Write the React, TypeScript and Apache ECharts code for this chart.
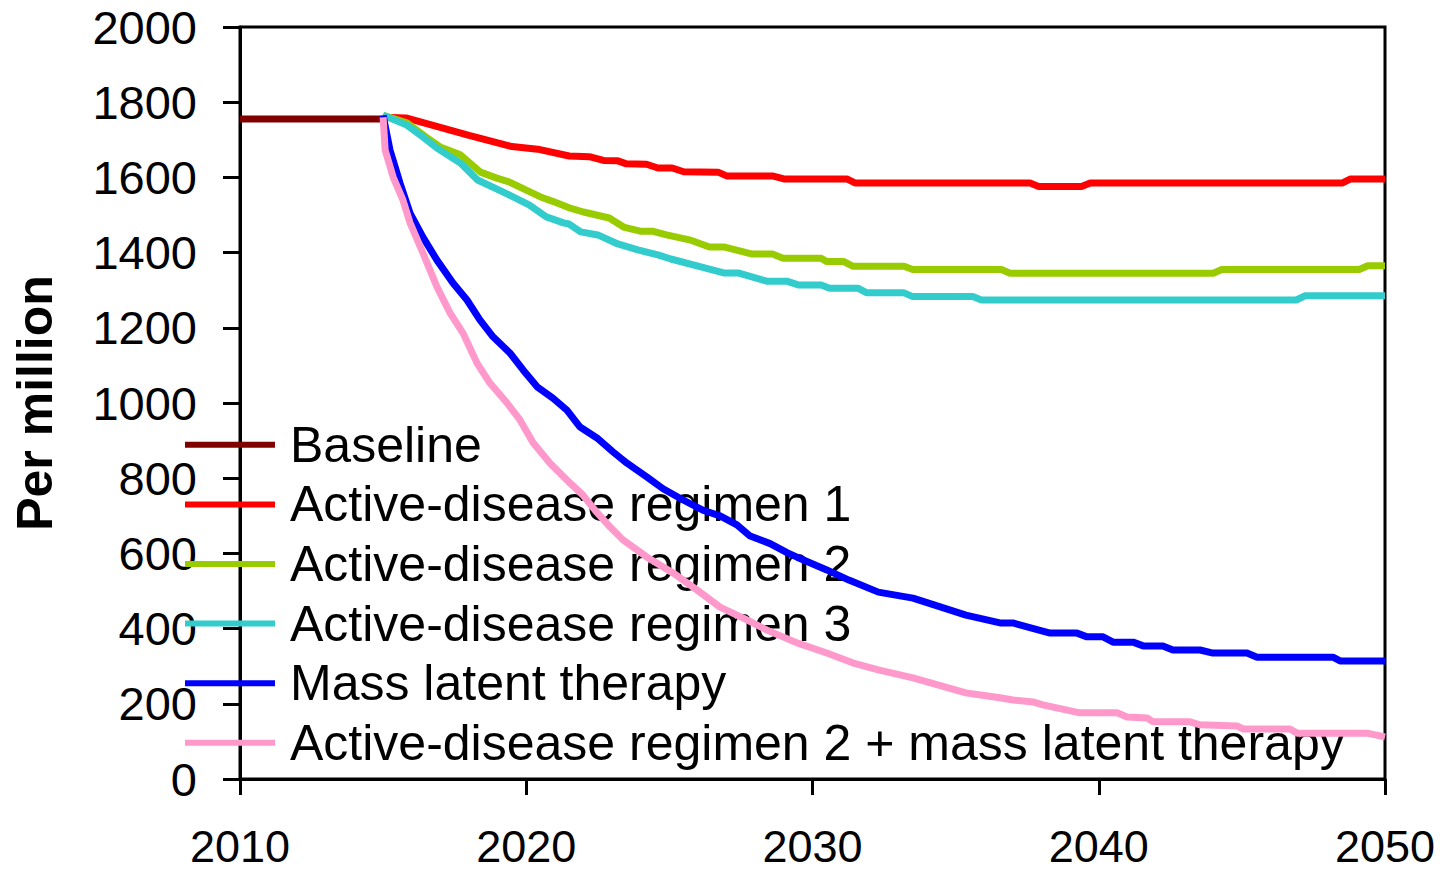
import React, { useEffect, useRef } from "react";
import * as echarts from "echarts";

const seriesNames = [
  "Baseline",
  "Active-disease regimen 1",
  "Active-disease regimen 2",
  "Active-disease regimen 3",
  "Mass latent therapy",
  "Active-disease regimen 2 + mass latent therapy",
];

const colors = ["#800000", "#FF0000", "#99CC00", "#33CCCC", "#0000FF", "#FF99CC"];

const baseline: number[][] = [
  [2010, 1755],
  [2015, 1755],
];

const regimen1: number[][] = [
  [2015, 1760], [2015.8, 1758], [2016.9, 1735], [2018, 1712], [2019.5, 1682],
  [2020.4, 1675], [2021.5, 1657], [2022.2, 1655], [2022.7, 1645], [2023.2, 1644],
  [2023.5, 1636], [2024.2, 1635], [2024.6, 1625], [2025.1, 1625], [2025.5, 1615],
  [2026.7, 1614], [2027, 1604], [2028.6, 1604], [2029, 1596], [2031.2, 1596],
  [2031.5, 1585], [2037.6, 1585], [2037.9, 1576], [2039.4, 1576], [2039.7, 1585],
  [2048.5, 1585], [2048.8, 1596], [2050, 1596],
];

const regimen2: number[][] = [
  [2015, 1765], [2015.83, 1745], [2016.5, 1707], [2016.99, 1681], [2017.7, 1660],
  [2018.4, 1614], [2018.97, 1598], [2019.4, 1588], [2020.0, 1566], [2020.5, 1548],
  [2020.9, 1537], [2021.5, 1519], [2022.0, 1508], [2022.9, 1492], [2023.4, 1468],
  [2023.98, 1457], [2024.4, 1457], [2024.9, 1447], [2025.7, 1434], [2026.4, 1415],
  [2026.9, 1415], [2027.9, 1396], [2028.6, 1396], [2028.97, 1385], [2030.3, 1385],
  [2030.5, 1376], [2031.1, 1376], [2031.4, 1364], [2033.2, 1364], [2033.5, 1355],
  [2036.6, 1355], [2036.9, 1345], [2044.0, 1345], [2044.3, 1355], [2049.1, 1355],
  [2049.4, 1365], [2050, 1365],
];

const regimen3: number[][] = [
  [2015, 1765], [2015.83, 1739], [2016.4, 1707], [2016.88, 1678], [2017.7, 1638],
  [2018.3, 1593], [2019.2, 1561], [2020.1, 1527], [2020.7, 1495], [2021.3, 1479],
  [2021.5, 1476], [2021.9, 1455], [2022.5, 1447], [2023.2, 1423], [2023.9, 1407],
  [2024.6, 1394], [2025.05, 1383], [2026.1, 1362], [2026.9, 1346], [2027.4, 1346],
  [2028.4, 1324], [2029.1, 1324], [2029.5, 1314], [2030.3, 1314], [2030.6, 1305],
  [2031.6, 1305], [2031.9, 1293], [2033.2, 1293], [2033.5, 1283], [2035.6, 1283],
  [2035.9, 1274], [2046.9, 1274], [2047.2, 1285], [2050, 1285],
];

const massLatent: number[][] = [
  [2015, 1765], [2015.24, 1673], [2015.59, 1585], [2015.94, 1505], [2016.39, 1441],
  [2016.88, 1380], [2017.44, 1319], [2017.93, 1274], [2018.38, 1221], [2018.84, 1176],
  [2019.43, 1133], [2019.89, 1088], [2020.38, 1043], [2020.93, 1013], [2021.42, 981],
  [2021.88, 936], [2022.47, 907], [2023.03, 870], [2023.52, 840], [2024.22, 803],
  [2024.78, 772], [2025.48, 742], [2026.2, 714], [2026.77, 700], [2027.36, 676],
  [2027.8, 647], [2028.52, 626], [2029.11, 602], [2029.46, 590], [2030.5, 556],
  [2031.27, 529], [2032.3, 497], [2033.51, 481], [2035.36, 436], [2036.55, 415],
  [2037.0, 415], [2038.3, 388], [2039.24, 388], [2039.59, 378], [2040.15, 378],
  [2040.5, 364], [2041.2, 364], [2041.55, 354], [2042.24, 354], [2042.59, 343],
  [2043.54, 343], [2043.99, 335], [2045.18, 335], [2045.53, 324], [2048.18, 324],
  [2048.43, 314], [2050, 314],
];

const combined: number[][] = [
  [2015, 1760], [2015.07, 1673], [2015.35, 1601], [2015.69, 1540], [2015.94, 1479],
  [2016.39, 1399], [2016.88, 1309], [2017.34, 1239], [2017.79, 1186], [2018.28, 1106],
  [2018.73, 1053], [2019.33, 1000], [2019.78, 955], [2020.24, 894], [2020.83, 840],
  [2021.42, 795], [2021.98, 755], [2022.4, 715], [2022.93, 670], [2023.38, 636],
  [2024.22, 590], [2025.13, 548], [2025.96, 503], [2026.77, 457], [2027.71, 423],
  [2028.41, 396], [2029.46, 362], [2030.5, 335], [2031.4, 309], [2032.3, 290],
  [2033.51, 269], [2035.36, 229], [2036.0, 222], [2036.55, 216], [2037.0, 210],
  [2037.7, 205], [2038.05, 197], [2039.34, 176], [2040.64, 176], [2040.99, 165],
  [2041.69, 162], [2041.9, 152], [2043.19, 152], [2043.54, 144], [2044.83, 141],
  [2045.04, 133], [2046.68, 133], [2046.93, 122], [2049.37, 122], [2050, 112],
];

const allData = [baseline, regimen1, regimen2, regimen3, massLatent, combined];

const xTicks = { min: 2010, max: 2050, interval: 10 };
const yTicks = { min: 0, max: 2000, interval: 200 };

const FONT = "'Liberation Sans', Arial, sans-serif";

export default function App() {
  const ref = useRef<HTMLDivElement>(null);

  useEffect(() => {
    document.body.style.margin = "0";
    if (!ref.current) return;
    const chart = echarts.init(ref.current, null, { renderer: "svg" });
    chart.setOption({
      animation: false,
      backgroundColor: "#fff",
      grid: {
        left: 240,
        right: 65,
        top: 27,
        bottom: 93,
        containLabel: false,
        outerBoundsMode: "none",
        show: true,
        borderColor: "#000",
        borderWidth: 3,
        backgroundColor: "transparent",
      },
      legend: {
        orient: "vertical",
        left: 180,
        top: 410,
        itemWidth: 90,
        itemHeight: 6,
        itemGap: 0,
        icon: "rect",
        data: seriesNames,
        textStyle: {
          fontFamily: FONT,
          fontSize: 50,
          color: "#000",
          lineHeight: 59.6,
          padding: [0, 0, 0, 10],
        },
      },
      xAxis: {
        type: "value",
        min: xTicks.min,
        max: xTicks.max,
        interval: xTicks.interval,
        splitLine: { show: false },
        axisLine: { show: true, lineStyle: { color: "#000", width: 3 } },
        axisTick: { show: true, inside: false, length: 16, lineStyle: { color: "#000", width: 3 } },
        axisLabel: {
          fontFamily: FONT,
          fontSize: 45,
          lineHeight: 45,
          color: "#000",
          margin: 45,
          formatter: (v: number) => String(v),
        },
      },
      yAxis: {
        type: "value",
        min: yTicks.min,
        max: yTicks.max,
        interval: yTicks.interval,
        name: "Per million",
        nameLocation: "middle",
        nameRotate: 90,
        nameGap: 180,
        nameTextStyle: {
          fontFamily: FONT,
          fontSize: 50,
          fontWeight: "bold",
          color: "#000",
        },
        splitLine: { show: false },
        axisLine: { show: true, lineStyle: { color: "#000", width: 3 } },
        axisTick: { show: true, inside: false, length: 17, lineStyle: { color: "#000", width: 3 } },
        axisLabel: {
          fontFamily: FONT,
          fontSize: 47,
          color: "#000",
          margin: 43,
          formatter: (v: number) => String(v),
        },
      },
      series: allData.map((d, i) => ({
        name: seriesNames[i],
        type: "line",
        data: d,
        showSymbol: false,
        symbol: "none",
        color: colors[i],
        lineStyle: { color: colors[i], width: 7 },
        z: 2 + i,
      })),
    });
    return () => chart.dispose();
  }, []);

  return (
    <div
      ref={ref}
      style={{ position: "absolute", left: 0, top: 0, width: 1450, height: 872 }}
    />
  );
}
